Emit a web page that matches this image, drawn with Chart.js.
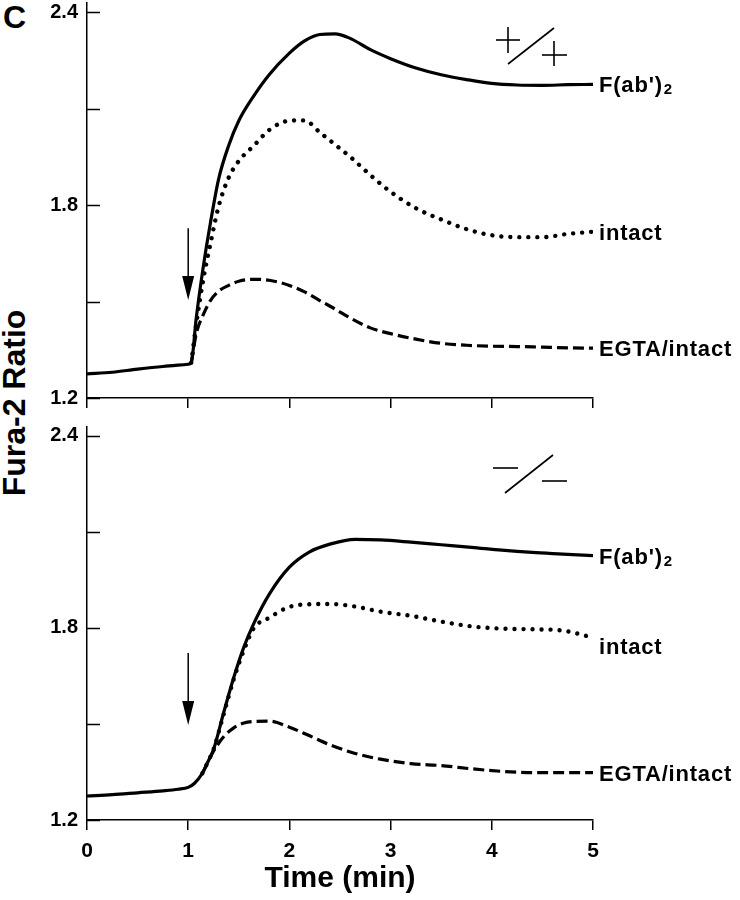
<!DOCTYPE html>
<html>
<head>
<meta charset="utf-8">
<script src="https://cdn.jsdelivr.net/npm/chart.js@4.4.1/dist/chart.umd.min.js"></script>
<style>
body{margin:0;background:#fff;width:740px;height:900px;position:relative;overflow:hidden;font-family:"Liberation Sans",Arial,sans-serif}
canvas{position:absolute;left:0}
#topChart{top:0}
#bottomChart{top:420px}
.txt{position:absolute;font-weight:bold;color:#000;white-space:nowrap}
#letter{left:3px;top:1px;font-size:32px;line-height:32px}
#ytitle{left:-96px;top:385px;width:220px;height:36px;line-height:36px;font-size:32px;text-align:center;transform:rotate(-90deg)}
</style>
</head>
<body>
<div class="txt" id="letter">C</div>
<div class="txt" id="ytitle">Fura-2 Ratio</div>
<canvas id="topChart" width="740" height="420"></canvas>
<canvas id="bottomChart" width="740" height="480"></canvas>
<script>
// values (time in min, Fura-2 ratio)
const timeTop = [0, 0.25, 0.5, 0.75, 1.0, 1.03, 1.08, 1.15, 1.22, 1.3, 1.4, 1.5, 1.65, 1.8, 2.0, 2.15, 2.3, 2.45, 2.6, 2.8, 3.0, 3.25, 3.5, 3.75, 4.0, 4.25, 4.5, 4.75, 5.0];
const fabTop = [1.275, 1.28, 1.29, 1.298, 1.305, 1.31, 1.45, 1.61, 1.745, 1.88, 1.985, 2.062, 2.14, 2.205, 2.272, 2.31, 2.33, 2.332, 2.318, 2.283, 2.255, 2.226, 2.205, 2.19, 2.178, 2.173, 2.172, 2.174, 2.175];
const intactTop = [null, null, null, null, null, 1.31, 1.43, 1.57, 1.68, 1.795, 1.885, 1.937, 1.985, 2.033, 2.062, 2.063, 2.026, 1.988, 1.95, 1.893, 1.841, 1.79, 1.755, 1.725, 1.706, 1.70, 1.70, 1.71, 1.717];
const egtaTop = [null, null, null, null, null, 1.31, 1.40, 1.46, 1.503, 1.532, 1.55, 1.563, 1.569, 1.566, 1.55, 1.53, 1.503, 1.477, 1.449, 1.418, 1.40, 1.383, 1.37, 1.364, 1.361, 1.36, 1.358, 1.356, 1.355];

const timeBottom = [0, 0.25, 0.5, 0.75, 0.9, 1.0, 1.06, 1.14, 1.2, 1.25, 1.35, 1.45, 1.55, 1.65, 1.8, 2.0, 2.2, 2.4, 2.65, 2.9, 3.2, 3.5, 3.8, 4.1, 4.4, 4.7, 5.0];
const fabBottom = [1.275, 1.279, 1.285, 1.291, 1.296, 1.302, 1.314, 1.346, 1.385, 1.42, 1.535, 1.645, 1.74, 1.815, 1.905, 1.99, 2.038, 2.062, 2.077, 2.075, 2.068, 2.06, 2.052, 2.043, 2.036, 2.031, 2.026];
const intactBottom = [null, null, null, null, null, null, null, 1.346, 1.385, 1.42, 1.53, 1.64, 1.73, 1.80, 1.832, 1.866, 1.874, 1.875, 1.867, 1.851, 1.838, 1.82, 1.805, 1.798, 1.796, 1.792, 1.77];
const egtaBottom = [null, null, null, null, null, null, null, 1.346, 1.385, 1.415, 1.46, 1.488, 1.503, 1.508, 1.509, 1.49, 1.463, 1.435, 1.408, 1.39, 1.376, 1.37, 1.36, 1.352, 1.348, 1.348, 1.348];

const yTicks = [1.2, 1.5, 1.8, 2.1, 2.4];
const yLabels = [1.2, 1.8, 2.4];
const xTicks = [0, 1, 2, 3, 4, 5];
const labelMain = ["F(ab')", "intact", "EGTA/intact"];
const labelSub = ["2", "", ""];
const arrowTime = 1;
const arrowTop = [1.728, 1.505];
const arrowBottom = [1.722, 1.497];

const FONT = '"Liberation Sans", Arial, sans-serif';

// 图上的标注: 内向刻度, 箭头, 曲线末端标签, 基因型符号
const panelMarks = {
  id: 'panelMarks',
  afterDraw(chart, args, opts) {
    const {ctx, chartArea, scales} = chart;
    const x = scales.x, y = scales.y;
    ctx.save();
    ctx.strokeStyle = '#000';
    ctx.fillStyle = '#000';
    ctx.lineWidth = 1.5;
    // y ticks pointing into the plot
    y.ticks.forEach(t => {
      const py = Math.round(y.getPixelForValue(t.value)) + 0.5;
      ctx.beginPath();
      ctx.moveTo(chartArea.left, py);
      ctx.lineTo(chartArea.left + 13, py);
      ctx.stroke();
    });
    // stimulus arrow
    const ax = x.getPixelForValue(arrowTime);
    const y0 = y.getPixelForValue(opts.arrow[0]);
    const y1 = y.getPixelForValue(opts.arrow[1]);
    ctx.beginPath();
    ctx.moveTo(ax, y0);
    ctx.lineTo(ax, y1 - 20);
    ctx.stroke();
    ctx.beginPath();
    ctx.moveTo(ax - 6, y1 - 24);
    ctx.lineTo(ax + 6, y1 - 24);
    ctx.lineTo(ax, y1);
    ctx.closePath();
    ctx.fill();
    // labels at the end of each trace
    ctx.textAlign = 'left';
    ctx.textBaseline = 'alphabetic';
    if ('letterSpacing' in ctx) ctx.letterSpacing = '0.8px';
    chart.data.datasets.forEach((ds, i) => {
      const pts = chart.getDatasetMeta(i).data;
      const p = pts[pts.length - 1];
      const lx = p.x + 6, ly = p.y + opts.labelDy[i];
      ctx.font = 'bold 22px ' + FONT;
      ctx.fillText(labelMain[i], lx, ly);
      if (labelSub[i]) {
        const w = ctx.measureText(labelMain[i]).width;
        ctx.font = 'bold 15px ' + FONT;
        ctx.fillText(labelSub[i], lx + w + 1, ly + 2);
      }
    });
    // genotype symbol (+/+ or -/-)
    const ox = chartArea.right - 97, oy = chartArea.top;
    ctx.lineWidth = 1.6;
    const seg = (a, b, c, d) => { ctx.beginPath(); ctx.moveTo(ox + a, oy + b); ctx.lineTo(ox + c, oy + d); ctx.stroke(); };
    if (opts.genotype === '+') {
      seg(0, 37, 24, 37); seg(12, 24, 12, 50);
      seg(12, 61, 58, 25);
      seg(46, 52, 71, 52); seg(58, 38, 58, 63);
    } else {
      seg(-3, 41, 22, 41);
      seg(9, 66, 57, 28);
      seg(46, 54, 71, 54);
    }
    ctx.restore();
  }
};

function noEdgePadding(s) {
  s.paddingTop = 0;
  s.paddingBottom = 0;
  s.paddingLeft = 0;
  s.paddingRight = 0;
}

function makeDatasets(times, fab, intact, egta) {
  const pts = arr => arr.map((v, i) => ({x: times[i], y: v}));
  const base = {borderColor: '#000', pointRadius: 0, fill: false, cubicInterpolationMode: 'monotone', spanGaps: false};
  return [
    Object.assign({}, base, {label: "F(ab')2", data: pts(fab), borderWidth: 3.2, order: 1}),
    Object.assign({}, base, {label: 'intact', data: pts(intact), borderWidth: 4.4, borderDash: [0.01, 9], borderCapStyle: 'round', order: 2}),
    Object.assign({}, base, {label: 'EGTA/intact', data: pts(egta), borderWidth: 3.2, borderDash: [11, 5], order: 3})
  ];
}

function makePanel(canvasId, datasets, cfg) {
  return new Chart(document.getElementById(canvasId), {
    type: 'line',
    data: {datasets: datasets},
    plugins: [panelMarks],
    options: {
      responsive: false,
      animation: false,
      events: [],
      layout: {padding: {left: 0, right: 147, top: cfg.padTop, bottom: 0}},
      plugins: {
        legend: {display: false},
        tooltip: {enabled: false},
        panelMarks: cfg.marks
      },
      scales: {
        x: {
          type: 'linear',
          min: 0,
          max: 5,
          afterBuildTicks: s => { s.ticks = xTicks.map(v => ({value: v})); },
          afterFit: s => { s.height = cfg.xHeight; noEdgePadding(s); },
          ticks: {
            color: '#000',
            padding: 9,
            font: {family: FONT, weight: 'bold', size: 21},
            callback: v => cfg.showX ? String(v) : ''
          },
          grid: {drawOnChartArea: false, drawTicks: true, tickLength: 10, color: '#000', lineWidth: 1.5},
          border: {display: true, color: '#000', width: 1.5},
          title: {
            display: cfg.showX,
            text: 'Time (min)',
            color: '#000',
            font: {family: FONT, weight: 'bold', size: 30},
            padding: {top: 0, bottom: 3}
          }
        },
        y: {
          min: 1.2,
          max: 2.428,
          afterBuildTicks: s => { s.ticks = yTicks.map(v => ({value: v})); },
          afterFit: s => { s.width = 87; noEdgePadding(s); },
          ticks: {
            color: '#000',
            padding: 9,
            font: {family: FONT, weight: 'bold', size: 20},
            callback: v => yLabels.includes(v) ? v.toFixed(1) : ''
          },
          grid: {display: false, drawTicks: false},
          border: {display: true, color: '#000', width: 1.5}
        }
      }
    }
  });
}

makePanel('topChart', makeDatasets(timeTop, fabTop, intactTop, egtaTop), {
  padTop: 3, xHeight: 22, showX: false,
  marks: {arrow: arrowTop, labelDy: [8, 8, 8], genotype: '+'}
});
makePanel('bottomChart', makeDatasets(timeBottom, fabBottom, intactBottom, egtaBottom), {
  padTop: 7, xHeight: 80, showX: true,
  marks: {arrow: arrowBottom, labelDy: [8, 16, 8], genotype: '-'}
});
</script>
</body>
</html>
